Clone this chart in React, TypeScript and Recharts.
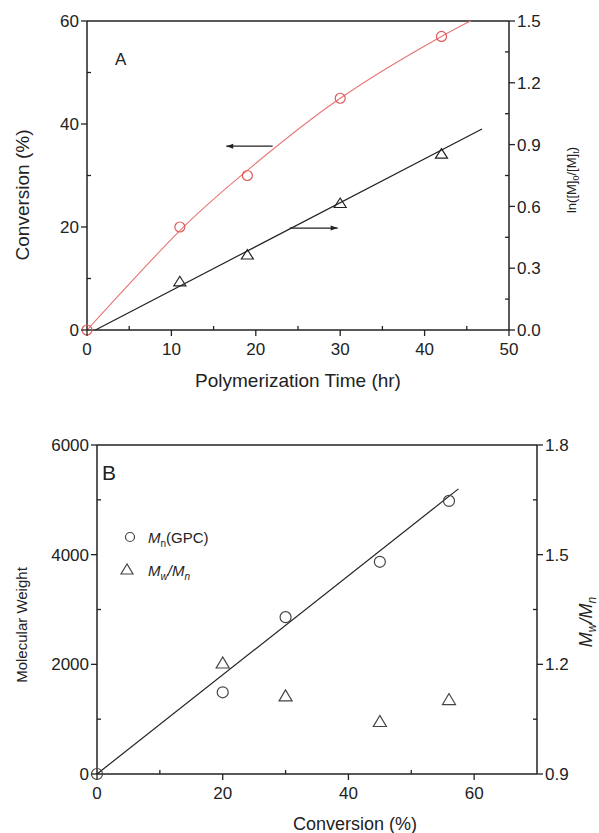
import { ComposedChart, Line, Scatter, XAxis, YAxis, ReferenceLine, Customized } from 'recharts'

// panel A: conversion / ln([M]0/[M]t) vs polymerization time
const TIME_H = [0, 11, 19, 30, 42]
const CONVERSION = [0, 20, 30, 45, 57]
const LN_TIME = [11, 19, 30, 42]
const LN_RATIO = [0.23, 0.36, 0.61, 0.85]
const CONV_FIT_T = [0, 11, 19, 30, 42, 45.5]
const CONV_FIT = [0, 19.3, 31, 45, 57, 60]
const LN_FIT_T = [1, 46.8]
const LN_FIT = [0, 0.976]

const A_X_MAJOR = [0, 10, 20, 30, 40, 50]
const A_X_MINOR = [5, 15, 25, 35, 45]
const A_YL_MAJOR = [0, 20, 40, 60]
const A_YL_MINOR = [10, 30, 50]
const A_YR_MAJOR = [0, 0.3, 0.6, 0.9, 1.2, 1.5]
const A_YR_MINOR = [0.15, 0.45, 0.75, 1.05, 1.35]

// panel B: molecular weight and dispersity vs conversion
const B_CONV = [0, 20, 30, 45, 56]
const MN_GPC = [0, 1490, 2860, 3870, 4980]
const PDI_CONV = [20, 30, 45, 56]
const PDI = [1.2, 1.11, 1.04, 1.1]
const MN_FIT_X = [0, 57.5]
const MN_FIT = [0, 5200]

const B_X_MAJOR = [0, 20, 40, 60]
const B_X_MINOR = [10, 30, 50]
const B_YL_MAJOR = [0, 2000, 4000, 6000]
const B_YL_MINOR = [1000, 3000, 5000]
const B_YR_MAJOR = [0.9, 1.2, 1.5, 1.8]
const B_YR_MINOR = [1.05, 1.35, 1.65]

const zip = (xs: number[], ys: number[]) => xs.map((x, i) => ({ x, y: ys[i] }))

const INK = '#222'
const RED = '#e05a5a'
const FONT = '"Liberation Sans", Arial, sans-serif'

const makeTick = (side: 'bottom' | 'left' | 'right', majors: number[], digits: number, fontSize: number) =>
  (props: any) => {
    const { x, y, payload } = props
    const v = payload.value
    const major = majors.some(m => Math.abs(m - v) < 1e-6)
    const label = v.toFixed(digits)
    if (side === 'bottom') {
      return (
        <g>
          <line x1={x} y1={y} x2={x} y2={major ? y + 6 : y - 4} stroke={INK} strokeWidth={1.3} />
          {major && <text x={x} y={y + 25} textAnchor="middle" fontSize={fontSize} fill={INK} fontFamily={FONT}>{label}</text>}
        </g>
      )
    }
    const dir = side === 'left' ? -1 : 1
    return (
      <g>
        <line x1={x} y1={y} x2={major ? x + dir * 6 : x - dir * 4} y2={y} stroke={INK} strokeWidth={1.3} />
        {major && (
          <text x={x + dir * 8} y={y} dy="0.36em" textAnchor={side === 'left' ? 'end' : 'start'} fontSize={fontSize} fill={INK} fontFamily={FONT}>
            {label}
          </text>
        )}
      </g>
    )
  }

const circleShape = (color: string, r: number) => (p: any) =>
  <circle cx={p.cx} cy={p.cy} r={r} fill="none" stroke={color} strokeWidth={1.2} />

const triangleShape = (color: string, w: number, h: number) => (p: any) => {
  const { cx, cy } = p
  const pts = `${cx},${cy - (h * 2) / 3} ${cx - w / 2},${cy + h / 3} ${cx + w / 2},${cy + h / 3}`
  return <polygon points={pts} fill="none" stroke={color} strokeWidth={1.2} />
}

const arrowShape = (p: any) => {
  const { x1, y1, x2, y2 } = p
  const d = x2 > x1 ? 1 : -1
  return (
    <g>
      <line x1={x1} y1={y1} x2={x2} y2={y2} stroke={INK} strokeWidth={1.2} />
      <polygon points={`${x2},${y2} ${x2 - d * 7},${y2 - 2.5} ${x2 - d * 7},${y2 + 2.5}`} fill={INK} />
    </g>
  )
}

const axisLine = { stroke: INK, strokeWidth: 1.5 }

function PanelA() {
  return (
    <ComposedChart width={599} height={400} margin={{ top: 21, right: 30, bottom: 40, left: 27 }}>
      <XAxis
        xAxisId="t" type="number" dataKey="x" domain={[0, 50]}
        ticks={[...A_X_MAJOR, ...A_X_MINOR].sort((a, b) => a - b)} interval={0}
        tickSize={0} tickMargin={0} tickLine={false} axisLine={axisLine} height={30}
        tick={makeTick('bottom', A_X_MAJOR, 0, 17)}
      />
      <YAxis
        yAxisId="left" type="number" dataKey="y" domain={[0, 60]}
        ticks={[...A_YL_MAJOR, ...A_YL_MINOR].sort((a, b) => a - b)} interval={0}
        tickSize={0} tickMargin={0} tickLine={false} axisLine={axisLine} width={60}
        tick={makeTick('left', A_YL_MAJOR, 0, 17)}
      />
      <YAxis
        yAxisId="right" orientation="right" type="number" dataKey="y" domain={[0, 1.5]}
        ticks={[...A_YR_MAJOR, ...A_YR_MINOR].sort((a, b) => a - b)} interval={0}
        tickSize={0} tickMargin={0} tickLine={false} axisLine={axisLine} width={60}
        tick={makeTick('right', A_YR_MAJOR, 1, 17)}
      />
      <ReferenceLine xAxisId="t" yAxisId="left" y={60} stroke={INK} strokeWidth={1.5} />
      <Line xAxisId="t" yAxisId="left" data={zip(CONV_FIT_T, CONV_FIT)} dataKey="y" type="natural"
        stroke="#e87474" strokeWidth={1.1} dot={false} isAnimationActive={false} />
      <Line xAxisId="t" yAxisId="right" data={zip(LN_FIT_T, LN_FIT)} dataKey="y" type="linear"
        stroke={INK} strokeWidth={1.2} dot={false} isAnimationActive={false} />
      <Scatter xAxisId="t" yAxisId="left" data={zip(TIME_H, CONVERSION)} dataKey="y"
        shape={circleShape(RED, 5)} isAnimationActive={false} />
      <Scatter xAxisId="t" yAxisId="right" data={zip(LN_TIME, LN_RATIO)} dataKey="y"
        shape={triangleShape(INK, 12, 9.5)} isAnimationActive={false} />
      <ReferenceLine xAxisId="t" yAxisId="left" segment={[{ x: 22, y: 35.7 }, { x: 16.5, y: 35.7 }]} shape={arrowShape} />
      <ReferenceLine xAxisId="t" yAxisId="left" segment={[{ x: 24, y: 19.8 }, { x: 29.7, y: 19.8 }]} shape={arrowShape} />
      <Customized component={() => (
        <g fontFamily={FONT} fill={INK}>
          <text x={115} y={65} fontSize={17}>A</text>
          <text x={298} y={387} fontSize={19} textAnchor="middle">Polymerization Time (hr)</text>
          <text transform="translate(29,195) rotate(-90)" fontSize={19} textAnchor="middle">Conversion (%)</text>
          <text transform="translate(576,180) rotate(-90)" fontSize={13} textAnchor="middle">
            ln([M]<tspan fontSize={9} dy={3}>0</tspan><tspan dy={-3}>/[M]</tspan><tspan fontSize={9} dy={3}>t</tspan><tspan dy={-3}>)</tspan>
          </text>
        </g>
      )} />
    </ComposedChart>
  )
}

function PanelB() {
  return (
    <ComposedChart width={599} height={433} margin={{ top: 45, right: 2, bottom: 29, left: 37 }}>
      <XAxis
        xAxisId="c" type="number" dataKey="x" domain={[0, 70]}
        ticks={[...B_X_MAJOR, ...B_X_MINOR].sort((a, b) => a - b)} interval={0}
        tickSize={0} tickMargin={0} tickLine={false} axisLine={axisLine} height={30}
        tick={makeTick('bottom', B_X_MAJOR, 0, 17)}
      />
      <YAxis
        yAxisId="left" type="number" dataKey="y" domain={[0, 6000]}
        ticks={[...B_YL_MAJOR, ...B_YL_MINOR].sort((a, b) => a - b)} interval={0}
        tickSize={0} tickMargin={0} tickLine={false} axisLine={axisLine} width={60}
        tick={makeTick('left', B_YL_MAJOR, 0, 17)}
      />
      <YAxis
        yAxisId="right" orientation="right" type="number" dataKey="y" domain={[0.9, 1.8]}
        ticks={[...B_YR_MAJOR, ...B_YR_MINOR].sort((a, b) => a - b)} interval={0}
        tickSize={0} tickMargin={0} tickLine={false} axisLine={axisLine} width={60}
        tick={makeTick('right', B_YR_MAJOR, 1, 17)}
      />
      <ReferenceLine xAxisId="c" yAxisId="left" y={6000} stroke={INK} strokeWidth={1.5} />
      <Line xAxisId="c" yAxisId="left" data={zip(MN_FIT_X, MN_FIT)} dataKey="y" type="linear"
        stroke={INK} strokeWidth={1.2} dot={false} isAnimationActive={false} />
      <Scatter xAxisId="c" yAxisId="left" data={zip(B_CONV, MN_GPC)} dataKey="y"
        shape={circleShape('#444', 5.5)} isAnimationActive={false} />
      <Scatter xAxisId="c" yAxisId="right" data={zip(PDI_CONV, PDI)} dataKey="y"
        shape={triangleShape('#444', 13, 11)} isAnimationActive={false} />
      <Customized component={() => (
        <g fontFamily={FONT} fill={INK}>
          <text x={102} y={80} fontSize={21}>B</text>
          <circle cx={130} cy={137} r={4.5} fill="none" stroke="#444" strokeWidth={1.2} />
          <text x={148} y={143} fontSize={15}>
            <tspan fontStyle="italic">M</tspan><tspan fontSize={10} dy={4}>n</tspan><tspan dy={-4}>(GPC)</tspan>
          </text>
          <polygon points="127,164 121,174 133,174" fill="none" stroke="#444" strokeWidth={1.2} />
          <text x={148} y={176} fontSize={15} fontStyle="italic">
            M<tspan fontSize={10} dy={4}>w</tspan><tspan dy={-4}>/M</tspan><tspan fontSize={10} dy={4}>n</tspan>
          </text>
          <text x={355} y={430} fontSize={18} textAnchor="middle">Conversion (%)</text>
          <text transform="translate(27,225) rotate(-90)" fontSize={15} textAnchor="middle">Molecular Weight</text>
          <text transform="translate(592,222) rotate(-90)" fontSize={18} textAnchor="middle" fontStyle="italic">
            M<tspan fontSize={12} dy={4}>w</tspan><tspan dy={-4}>/M</tspan><tspan fontSize={12} dy={4}>n</tspan>
          </text>
        </g>
      )} />
    </ComposedChart>
  )
}

export default function App() {
  return (
    <div style={{ position: 'absolute', left: 0, top: 0, width: 599, height: 833, background: '#fff' }}>
      <PanelA />
      <PanelB />
    </div>
  )
}
